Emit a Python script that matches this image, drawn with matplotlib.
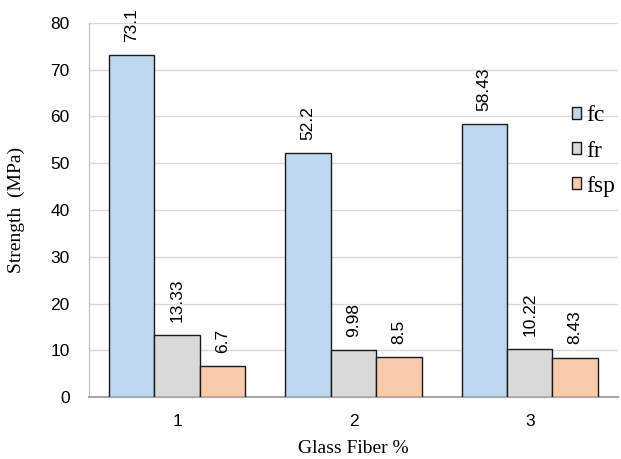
import numpy as np
import matplotlib
matplotlib.use('Agg')
import matplotlib.pyplot as plt

# glass fiber content vs strength
groups = ['1', '2', '3']
fc = [73.1, 52.2, 58.43]
fr = [13.33, 9.98, 10.22]
fsp = [6.7, 8.5, 8.43]
labels = ['fc', 'fr', 'fsp']
colors = ['#bdd7ee', '#d9d9d9', '#f8cbad']

fig = plt.figure(figsize=(6.21, 4.59), dpi=100)
ax = fig.add_axes([0.1433, 0.135, 0.8517, 0.815])

x = np.arange(len(groups))
w = 0.258
series = [fc, fr, fsp]
for i, (vals, lab, col) in enumerate(zip(series, labels, colors)):
    bars = ax.bar(x + (i - 1) * w, vals, w, color=col, edgecolor='#1a1a1a',
                  linewidth=1.0, label=lab, zorder=3)
    ax.bar_label(bars, labels=[f'{v:g}' for v in vals], rotation=90,
                 padding=9.5, fontsize=12.5, family='Liberation Sans')

ax.set_xlim(-0.5, 2.5)
ax.set_ylim(0, 80)
ax.set_yticks(range(0, 81, 10))
ax.set_xticks(x)
ax.set_xticklabels(groups)
ax.grid(axis='y', color='#d9d9d9', linewidth=1.0, zorder=0)

for s in ['top', 'right']:
    ax.spines[s].set_visible(False)
ax.spines['left'].set_color('#bfbfbf')
ax.spines['bottom'].set_color('#a6a6a6')
ax.spines['bottom'].set_linewidth(1.5)
ax.tick_params(axis='both', length=0, labelsize=12.5)
ax.tick_params(axis='x', pad=12)
ax.tick_params(axis='y', pad=14)
for t in ax.get_xticklabels() + ax.get_yticklabels():
    t.set_family('Liberation Sans')

ax.set_xlabel('Glass Fiber %', family='Liberation Serif', fontsize=14, labelpad=8)
ax.set_ylabel('Strength  (MPa)', family='Liberation Serif', fontsize=14, labelpad=18)

ax.legend(loc='center left', bbox_to_anchor=(572 / 621, 1 - 151 / 459),
          bbox_transform=fig.transFigure, frameon=False,
          prop={'family': 'Liberation Serif', 'size': 17},
          handlelength=0.4, handleheight=0.4, handletextpad=0.2,
          labelspacing=0.6, borderpad=0, borderaxespad=0)

fig.savefig('out.png', dpi=100)
